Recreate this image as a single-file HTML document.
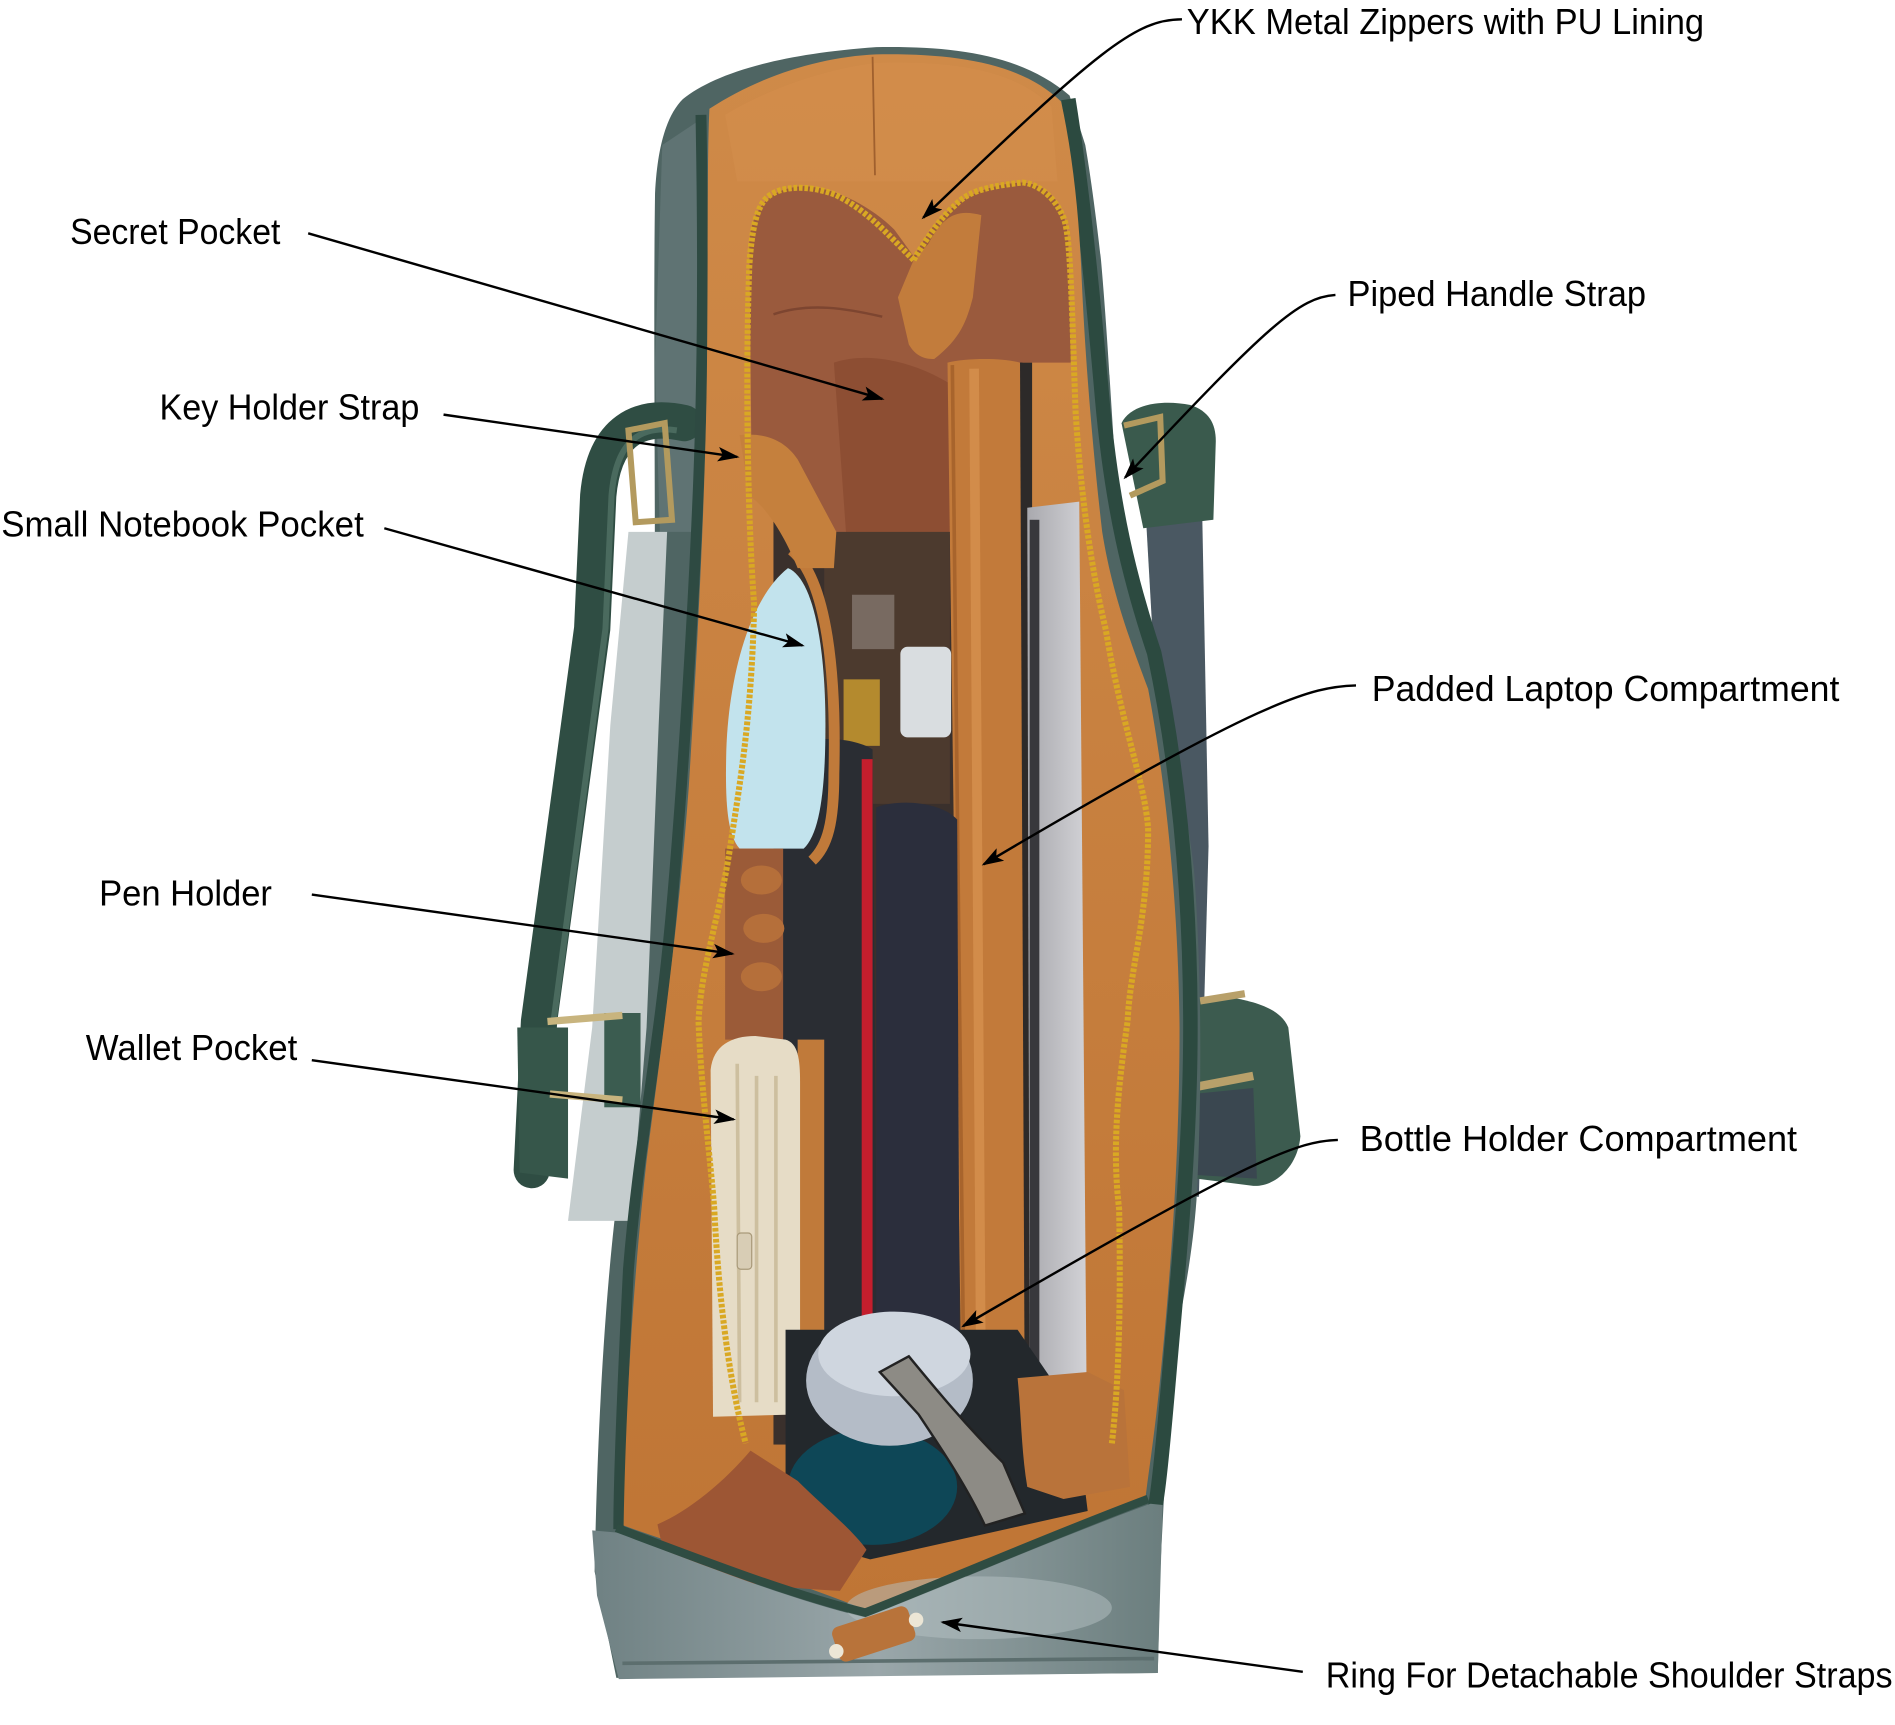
<!DOCTYPE html>
<html><head><meta charset="utf-8"><style>
html,body{margin:0;padding:0;background:#fff;width:1895px;height:1725px;overflow:hidden}
svg{display:block}
text{font-family:"Liberation Sans",sans-serif;font-size:30px;fill:#000}
</style></head><body>
<svg xmlns="http://www.w3.org/2000/svg" width="1895" height="1725" viewBox="0 0 1568 1427" preserveAspectRatio="none">
<defs>
<marker id="ah" markerWidth="18" markerHeight="12" refX="16" refY="6" orient="auto" markerUnits="userSpaceOnUse"><path d="M0,0 L18,6 L0,12 L4,6 Z" fill="#000"/></marker>
<linearGradient id="lin" x1="0" y1="0" x2="0" y2="1"><stop offset="0" stop-color="#cf8a48"/><stop offset="1" stop-color="#bf7535"/></linearGradient>
<linearGradient id="front" x1="0" y1="0" x2="1" y2="0"><stop offset="0" stop-color="#6f8183"/><stop offset="0.5" stop-color="#9aa7aa"/><stop offset="1" stop-color="#6b7e7e"/></linearGradient>
<linearGradient id="lap" x1="0" y1="0" x2="1" y2="0"><stop offset="0" stop-color="#a9a9ae"/><stop offset="1" stop-color="#d2d2d6"/></linearGradient>
</defs>
<rect width="1568" height="1427" fill="#fff"/>

<!-- right handle (behind) -->
<path d="M946 389 L994 385 L1000 700 L992 990 L980 990 Z" fill="#4a5862"/>
<path d="M985 830 L1011 824 C1040 828,1060 835,1066 850 L1076 940 C1074 965,1055 982,1037 981 L990 975 Z" fill="#3c5b4f"/>
<path d="M987 905 L1037 900 L1040 975 L990 972 Z" fill="#3a4750"/>
<path d="M993 828 L1030 822" stroke="#b8a06a" stroke-width="6"/>
<path d="M985 900 L1037 890" stroke="#b8a06a" stroke-width="7"/>
<path d="M928 350 C935 335,960 330,985 335 C1000 340,1006 350,1006 365 L1004 430 L946 437 Z" fill="#3a5a4d"/>
<path d="M930 352 L960 345 L962 398 L935 410" fill="none" stroke="#b39a5e" stroke-width="5"/>

<!-- bag silhouette -->
<path d="M565 82 C590 62,640 45,725 39 C790 38,845 45,885 79 L898 120 C905 160,911 215,911 215 C915 260,918 310,918 310 L926 436 C932 480,946 521,946 521 C960 570,980 650,988 720 C994 800,995 900,990 993 C985 1060,972 1100,968 1150 C965 1200,962 1260,960 1300 L958 1384 L510 1388 L492 1300 C495 1150,503 1050,512 980 C522 880,535 760,540 640 C544 500,540 300,542 160 C544 120,552 95,565 82 Z" fill="#4f6563"/>
<path d="M548 120 L578 100 L582 340 L572 440 L546 440 L542 300 Z" fill="#5f7373"/>
<path d="M520 440 L552 440 L545 600 L535 850 L522 1010 L470 1010 L490 850 L505 600 Z" fill="#c5cdce"/>

<!-- left handle -->
<path d="M566 350 C530 342,500 355,495 410 L490 520 L446 845 L440 968" fill="none" stroke="#2f4d43" stroke-width="30" stroke-linecap="round"/>
<path d="M560 356 C532 352,510 362,506 410 L501 520 L458 845" fill="none" stroke="#4a6a5e" stroke-width="5"/>
<path d="M428 850 L470 850 L470 975 L430 970 Z" fill="#36564a"/>
<rect x="500" y="838" width="30" height="78" fill="#3b5c50"/>
<path d="M453 845 L515 840" stroke="#c8b47e" stroke-width="6"/>
<path d="M455 905 L515 910" stroke="#c8b47e" stroke-width="6"/>
<path d="M520 356 L550 350 L556 430 L526 432 Z" fill="none" stroke="#b39a5e" stroke-width="5"/>

<!-- piping -->
<path d="M580 95 C582 200,582 300,578 400 C574 500,565 650,555 760 C545 870,528 950,520 1050 C515 1150,512 1220,512 1265" fill="none" stroke="#2e4a42" stroke-width="9"/>
<path d="M884 82 C895 150,905 250,912 330 C920 420,935 480,955 540 C972 620,985 720,985 850 C985 950,975 1050,968 1130 C962 1200,958 1240,955 1250" fill="none" stroke="#2c4a40" stroke-width="12"/>

<!-- lining -->
<path d="M587 90 C630 62,680 47,725 45 C790 44,845 52,878 84 C888 130,893 180,895 230 C898 300,905 380,912 440 C920 490,935 530,950 570 C965 650,975 750,976 850 C976 960,968 1060,960 1140 C955 1190,950 1220,948 1238 C880 1265,800 1300,717 1332 C650 1305,580 1285,516 1262 C518 1150,525 1050,535 960 C548 860,562 760,570 650 C578 520,584 400,585 300 C586 200,585 130,587 90 Z" fill="url(#lin)"/>
<path d="M600 95 C650 65,700 55,725 52 C790 50,840 58,870 88 L875 150 L610 150 Z" fill="#d38e4c" opacity="0.6"/>
<path d="M722 47 L724 145" stroke="#a0602e" stroke-width="1.5"/>

<!-- dark middle base -->
<rect x="640" y="295" width="206" height="900" fill="#3a302c"/>

<!-- silk pocket -->
<path d="M620 200 C622 170,640 155,665 154 C690 155,720 170,740 190 L756 212 L770 190 C790 165,815 152,846 151 C870 153,882 170,884 200 L886 300 L842 300 L790 300 L788 440 L760 470 L700 470 L650 440 L622 400 Z" fill="#9a5a3d"/>
<path d="M690 300 C720 290,760 300,790 320 L788 440 L740 460 L700 440 Z" fill="#87492f" opacity="0.7"/>
<path d="M640 260 C670 250,700 255,730 262" fill="none" stroke="#7d4530" stroke-width="2"/>

<!-- V tongue -->
<path d="M756 215 L768 202 C780 180,790 172,812 178 L805 246 C800 265,795 280,773 297 C765 297,758 295,752 285 L743 246 Z" fill="#c27c3c"/>

<!-- divider / laptop -->
<rect x="842" y="300" width="12" height="850" fill="#2d2a29"/>
<path d="M850 420 L893 415 L899 1140 L852 1145 Z" fill="url(#lap)"/>
<rect x="852" y="430" width="8" height="700" fill="#38383c"/>
<path d="M784 300 C800 296,830 296,844 300 L848 1185 L796 1190 Z" fill="#c27a3a"/>
<path d="M788 302 L798 1188" stroke="#a8642c" stroke-width="3"/>
<path d="M806 305 L812 1185" stroke="#d28c4a" stroke-width="8"/>

<!-- clear stuff -->
<rect x="682" y="440" width="104" height="225" fill="#4c3a2e"/>
<rect x="745" y="535" width="42" height="75" rx="6" fill="#d9dde0"/>
<rect x="698" y="562" width="30" height="55" fill="#b48a2e"/>
<rect x="705" y="492" width="35" height="45" fill="#8c7f78" opacity="0.7"/>

<!-- notebook / pen / navy -->
<path d="M647 625 C650 610,700 606,722 620 L726 1110 L648 1110 Z" fill="#2a2d33"/>
<rect x="713" y="628" width="9" height="465" fill="#c41e2d"/>
<path d="M725 668 C745 660,780 664,792 678 L794 1110 L725 1110 Z" fill="#2b2e3c"/>

<!-- blue notebook -->
<path d="M652 470 C672 478,683 530,683 600 C683 655,678 690,665 702 L612 702 C601 690,600 660,601 620 C603 560,620 495,652 470 Z" fill="#c2e3ed"/>
<path d="M655 455 C685 480,692 560,690 640 C690 680,685 700,672 712" fill="none" stroke="#c07a3a" stroke-width="9"/>

<!-- key strap -->
<path d="M612 360 C630 358,648 362,660 380 L692 440 L690 470 L660 470 C650 445,635 420,620 410 Z" fill="#c5803d"/>

<!-- pen holder -->
<rect x="600" y="702" width="48" height="158" fill="#9b5b38"/>
<ellipse cx="630" cy="728" rx="17" ry="12" fill="#b56f3a"/>
<ellipse cx="632" cy="768" rx="17" ry="12" fill="#b56f3a"/>
<ellipse cx="630" cy="808" rx="17" ry="12" fill="#b56f3a"/>

<!-- wallet -->
<rect x="660" y="860" width="22" height="310" fill="#c07a3a"/>
<path d="M588 885 C590 865,605 857,625 857 L650 860 C660 863,662 875,662 895 L662 1170 L590 1172 Z" fill="#e6dcc6"/>
<path d="M610 880 L612 1160 M626 890 L626 1160 M642 890 L642 1160" stroke="#cdbf9f" stroke-width="3"/>
<rect x="610" y="1020" width="12" height="30" rx="3" fill="#d8cdb5" stroke="#a99a7a"/>

<!-- bottom interior -->
<path d="M650 1100 L842 1100 L890 1170 L900 1250 L720 1290 L650 1270 Z" fill="#23282c"/>
<path d="M842 1140 L900 1135 L930 1150 L935 1230 L880 1240 L850 1230 C845 1200,845 1170,842 1140 Z" fill="#b9733a"/>
<ellipse cx="722" cy="1230" rx="70" ry="48" fill="#0e4757"/>
<ellipse cx="736" cy="1142" rx="69" ry="54" fill="#b4bcc7"/>
<ellipse cx="740" cy="1120" rx="63" ry="35" fill="#cfd6df"/>
<path d="M728 1135 L752 1122 C775 1150,800 1180,830 1210 L848 1252 L815 1262 C800 1230,780 1200,760 1170 Z" fill="#8d8b85" stroke="#222" stroke-width="2"/>
<path d="M621 1200 C600 1225,570 1250,544 1261 C548 1280,552 1295,556 1300 C600 1308,650 1314,695 1316 L717 1282 C705 1265,680 1245,660 1225 Z" fill="#9d5634"/>

<!-- front panel -->
<path d="M490 1266 L512 1268 C580 1294,650 1322,716 1338 C790 1309,870 1274,952 1244 L962 1245 L958 1384 L512 1389 L494 1320 Z" fill="url(#front)"/>
<ellipse cx="810" cy="1330" rx="110" ry="26" fill="#b6c1c3" opacity="0.5"/>
<path d="M510 1264 C580 1290,650 1318,716 1334 C790 1305,870 1270,950 1240" fill="none" stroke="#2f4c42" stroke-width="7"/>
<path d="M515 1376 L955 1372" stroke="#5c6e6e" stroke-width="3"/>
<g transform="rotate(-18 722 1352)"><rect x="690" y="1337" width="66" height="30" rx="6" fill="#b8733a"/></g>
<circle cx="692" cy="1366" r="6" fill="#ece6d6"/>
<circle cx="758" cy="1340" r="6" fill="#ece6d6"/>

<!-- zippers -->
<path d="M756 215 C740 200,720 175,691 161 C670 153,645 153,634 164 C626 172,622 190,620 220 C617 300,618 420,624 500 C622 600,610 660,604 702 C595 760,580 800,578 845 C580 900,588 960,591 1000 C596 1100,608 1160,617 1194" fill="none" stroke="#d9a823" stroke-width="5" stroke-dasharray="3 1.5"/>
<path d="M756 215 C765 200,778 180,790 170 C800 160,810 155,846 151 C860 152,875 165,881 183 C886 200,887 260,890 341 C895 420,905 480,915 521 C928 600,948 650,950 686 C950 760,935 800,933 845 C925 900,920 950,926 1000 C928 1100,924 1160,920 1194" fill="none" stroke="#d9a823" stroke-width="5" stroke-dasharray="3 1.5"/>

<!-- leader lines -->
<g fill="none" stroke="#000" stroke-width="2" marker-end="url(#ah)">
<path d="M978 16 C940 16,910 40,764 180"/>
<path d="M255 193 L730 330"/>
<path d="M367 343 L610 378"/>
<path d="M318 437 L664 534"/>
<path d="M258 740 L606 789"/>
<path d="M258 877 L607 926"/>
<path d="M1105 244 C1075 246,1050 268,931 395"/>
<path d="M1122 567 C1085 568,1045 578,814 715"/>
<path d="M1107 943 C1075 944,1040 955,797 1097"/>
<path d="M1078 1383 L780 1342"/>
</g>

<!-- labels -->
<text x="982" y="28" textLength="428" lengthAdjust="spacingAndGlyphs">YKK Metal Zippers with PU Lining</text>
<text x="58" y="202" textLength="174" lengthAdjust="spacingAndGlyphs">Secret Pocket</text>
<text x="132" y="347" textLength="215" lengthAdjust="spacingAndGlyphs">Key Holder Strap</text>
<text x="1" y="444" textLength="300" lengthAdjust="spacingAndGlyphs">Small Notebook Pocket</text>
<text x="82" y="749" textLength="143" lengthAdjust="spacingAndGlyphs">Pen Holder</text>
<text x="71" y="877" textLength="175" lengthAdjust="spacingAndGlyphs">Wallet Pocket</text>
<text x="1115" y="253" textLength="247" lengthAdjust="spacingAndGlyphs">Piped Handle Strap</text>
<text x="1135" y="580" textLength="387" lengthAdjust="spacingAndGlyphs">Padded Laptop Compartment</text>
<text x="1125" y="952" textLength="362" lengthAdjust="spacingAndGlyphs">Bottle Holder Compartment</text>
<text x="1097" y="1396" textLength="469" lengthAdjust="spacingAndGlyphs">Ring For Detachable Shoulder Straps</text>
</svg>
</body></html>
